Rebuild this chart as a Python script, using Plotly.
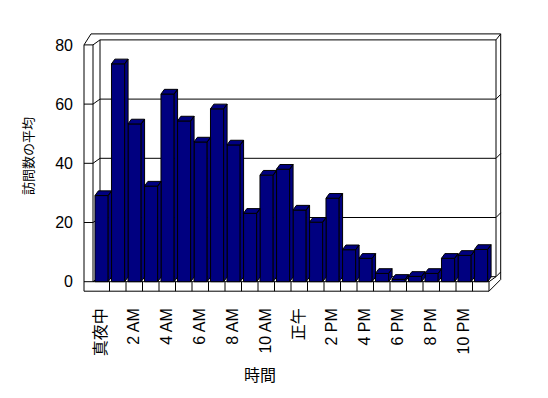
import plotly.graph_objects as go

# ---- data ----
hours = list(range(24))
visits = [29.1, 73.6, 53.3, 32.3, 63.4, 54.3, 47.2, 58.4, 46.2, 23.1, 36.0, 38.0,
          24.2, 20.1, 28.2, 10.8, 7.9, 2.8, 0.8, 1.8, 2.8, 7.9, 8.9, 10.9]
tick_hours = [0, 2, 4, 6, 8, 10, 12, 14, 16, 18, 20, 22]
tick_labels = ["真夜中", "2 AM", "4 AM", "6 AM", "8 AM", "10 AM", "正午",
               "2 PM", "4 PM", "6 PM", "8 PM", "10 PM"]
y_ticks = [0, 20, 40, 60, 80]
y_title = "訪問数の平均"
x_title = "時間"

# ---- geometry (data units) ----
NAVY = "#000080"
FONT = "Liberation Sans, Arial, Noto Sans CJK JP, sans-serif"
W, H = 548, 398
L, R, T, B = 80, 506, 30, 296          # plot area in px
SX, SY = 16.5, 2.96                     # px per data unit
X0PX, Y0PX = 93, 281.7                  # px of x=-0.5 and y=0
xr = [-0.5 + (L - X0PX) / SX, -0.5 + (R - X0PX) / SX]
yr = [(Y0PX - B) / SY, (Y0PX - T) / SY]

BAR_OFF, BAR_W = -0.38, 0.80            # bar front face
BDX, BDY = 3.4 / SX, 4.7 / SY           # bar depth
WDX, WDY = 7 / SX, 5 / SY               # wall depth
XL_OUT = -0.5 - 9 / SX                  # outer left wall face
XR_OUT = 23.5 + WDX + 4.7 / SX          # outer right wall face
RDY = 4.7 / SY
FLOOR = -9.5 / SY                       # floor slab thickness
YMAX = max(y_ticks)
XF0, XF1 = -0.5, len(hours) - 0.5       # front floor extent
XB0, XB1 = XF0 + WDX, XF1 + WDX         # back wall extent

shapes = []
def seg(x0, y0, x1, y1):
    shapes.append(dict(type="line", xref="x", yref="y", x0=x0, y0=y0, x1=x1, y1=y1,
                       line=dict(color="black", width=1), layer="below"))

# outer frame
outer = [(XL_OUT, FLOOR), (XL_OUT, YMAX), (XL_OUT + 7 / SX, YMAX + 11 / SY),
         (XR_OUT, YMAX + 11 / SY), (XR_OUT, FLOOR + (XR_OUT - XF1) * SX / SY),
         (XF1, FLOOR), (XL_OUT, FLOOR)]
for (a, b), (c, d) in zip(outer[:-1], outer[1:]):
    seg(a, b, c, d)
# left wall inner edge, back wall edges
seg(XF0, 0, XF0, YMAX)
seg(XB0, WDY, XB0, YMAX + WDY)
seg(XB1, WDY, XB1, YMAX + WDY)
seg(XB1, YMAX + WDY, XR_OUT, YMAX + 11 / SY)
# gridlines / ticks
for v in y_ticks:
    seg(XL_OUT, v, XF0, v)
    seg(XF0, v, XB0, v + WDY)
    seg(XB0, v + WDY, XB1, v + WDY)
    if v not in (YMAX,):
        seg(XB1, v + WDY, XR_OUT, v + WDY + RDY)
# floor
seg(XF0, 0, XF1, 0)
seg(XF1, FLOOR, XF1, 0)
seg(XF1, 0, XB1, WDY)
for k in hours[1:]:
    seg(k - 0.5, FLOOR, k - 0.5, 0)

# ---- 3D faces of bars from data ----
fx, fy = [], []
for k, v in zip(hours, visits):
    x0 = k + BAR_OFF
    x1 = x0 + BAR_W
    # side face
    fx += [x1, x1 + BDX, x1 + BDX, x1, x1, None]
    fy += [0, BDY, v + BDY, v, 0, None]
    # top face
    fx += [x0, x1, x1 + BDX, x0 + BDX, x0, None]
    fy += [v, v, v + BDY, v + BDY, v, None]

fig = go.Figure()
fig.add_trace(go.Bar(x=hours, y=visits, width=BAR_W, offset=BAR_OFF,
                     marker=dict(color=NAVY, line=dict(color="black", width=1)),
                     hoverinfo="x+y"))
fig.add_trace(go.Scatter(x=fx, y=fy, mode="lines", fill="toself", fillcolor=NAVY,
                         line=dict(color="black", width=1), hoverinfo="skip"))

fig.update_layout(
    width=W, height=H, showlegend=False,
    margin=dict(l=L, r=W - R, t=T, b=H - B, pad=0),
    paper_bgcolor="white", plot_bgcolor="white",
    font=dict(family=FONT, size=16, color="black"),
    shapes=shapes,
    xaxis=dict(range=xr, tickmode="array", tickvals=tick_hours, ticktext=tick_labels,
               tickangle=-90, showgrid=False, zeroline=False, showline=False,
               ticks="", ticklabelstandoff=8, tickfont=dict(size=16, color="black")),
    yaxis=dict(range=yr, tickmode="array", tickvals=y_ticks, showgrid=False,
               zeroline=False, showline=False, ticks="", ticklabelstandoff=6,
               tickfont=dict(size=16, color="black")),
    annotations=[
        dict(text=y_title, xref="paper", yref="paper", textangle=-90, showarrow=False,
             x=(28 - L) / (R - L), y=(B - 156) / (B - T), xanchor="center", yanchor="middle",
             font=dict(size=13)),
        dict(text=x_title, xref="paper", yref="paper", showarrow=False,
             x=(260 - L) / (R - L), y=(B - 375) / (B - T), xanchor="center", yanchor="middle",
             font=dict(size=16)),
    ],
)

fig.write_html("out.html")
